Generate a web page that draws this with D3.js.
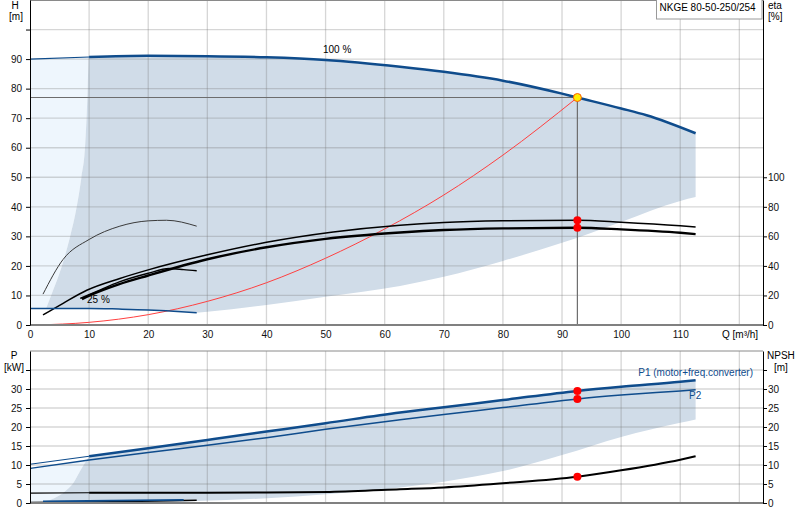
<!DOCTYPE html>
<html>
<head>
<meta charset="utf-8">
<script src="https://cdn.jsdelivr.net/npm/d3@7"></script>
<style>
  body { margin: 0; background: #fff; }
  svg { display: block; font-family: 'Liberation Sans', Arial, sans-serif; font-size: 10px; }
</style>
</head>
<body>
<svg id="chart" width="800" height="520"></svg>
<script>
// --- values ---

// head at full speed (100 %)
var qHead = [0, 10, 20, 30, 40, 50, 62.6, 70, 80, 90, 92.6, 100, 104.3, 112.6]
var hHead = [90, 90.7, 91.1, 91, 90.6, 89.7, 87.4, 85.7, 82.7, 78.3, 77, 73.3, 71, 64.9]

// head at min speed (25 %)
var qHeadMin = [0, 10, 15, 20, 23, 28.2]
var hHeadMin = [5.6, 5.6, 5.4, 5.1, 4.8, 4.15]

// left edge of the operating range
var qEdge = [9.9, 9.7, 9.3, 8.7, 7.9, 6.8, 5.4, 3.7, 2.7]
var hEdge = [90.5, 77, 60, 50, 40, 30, 20, 10.7, 5.5]

// lower edge of the operating range
var qLow = [28.2, 30, 40, 50, 62.6, 70, 80, 90, 100, 110, 112.6]
var hLow = [4.15, 4.5, 6.8, 9.6, 13.2, 16.3, 21.7, 27.8, 34.9, 42, 43.3]

// system curve
var qSys = [1, 10, 20, 30, 40, 50, 60, 70, 80, 92.6]
var hSys = [0, 0.9, 3.5, 8, 14.3, 22.6, 32.5, 44, 57.5, 77]

// efficiency curves [%]
var qEtaA = [2.2, 5.6, 9.6, 15.2, 20, 30, 40, 51.3, 62.6, 70, 80, 92.6, 100, 110, 112.6]
var etaA = [6.8, 14.7, 23.5, 31.5, 37.3, 47.5, 56, 63, 67.6, 69.4, 70.5, 70.9, 69.6, 67.2, 66.4]
var qEtaB = [8.8, 10.1, 15, 20, 30, 40, 50, 62.6, 70, 80, 92.6, 100, 110, 112.6]
var etaB = [17.5, 20, 27.5, 33.5, 44.5, 52.6, 58.3, 62.6, 64.3, 65.4, 65.8, 64.7, 62.4, 61.5]
var qEtaMin = [8.5, 12, 15, 20, 23.5, 26, 28.2]
var etaMin = [18, 24, 29, 35, 38.2, 37.5, 36.7]
var qEtaHyd = [2.2, 5.6, 10, 15.2, 20, 23.1, 28.2]
var etaHyd = [20.9, 44.4, 57.9, 66.9, 70.5, 70.9, 66.9]

// power [kW]
var qPow = [0, 10, 20, 30, 40, 50, 62.6, 70, 80, 92.6, 100, 110, 112.6]
var p1 = [10.2, 12.3, 14.4, 16.6, 18.8, 21, 23.8, 25.2, 27.1, 29.5, 30.6, 31.9, 32.3]
var p2 = [9.1, 11.3, 13.3, 15.2, 17.2, 19.4, 21.9, 23.3, 25.1, 27.4, 28.4, 29.5, 29.8]
var qPowEdge = [10, 9.6, 8.5, 7.3, 6.2, 3.4, 2.25, 1.7]
var pPowEdge = [12.3, 11.3, 8.5, 5.2, 3.4, 0.8, 0.35, 0]
var qPowLow = [20, 28.2, 39.4, 50.7, 62.6, 70, 80, 90, 100, 110, 112.6]
var pPowLow = [0, 0.5, 1.2, 2.4, 4.1, 5.6, 8.4, 12.6, 17.4, 21.1, 22]
var qPowMin = [2.2, 14, 26]
var pPowMin = [0.4, 0.6, 0.8]
var qNpshMin = [0, 14, 28.2]
var pNpshMin = [0.1, 0.3, 0.75]

// NPSH [m]
var qNpsh = [0, 10, 20, 30, 40, 50.7, 62.6, 70, 80, 92.6, 100, 110, 112.6]
var npsh = [2.6, 2.7, 2.7, 2.7, 2.75, 2.9, 3.6, 4.1, 5.2, 6.9, 8.6, 11.4, 12.3]

// duty point
var dutyQ = 92.6
var dutyH = 77
var dutyEta = [70.9, 65.8]
var dutyP = [29.5, 27.4]
var dutyNpsh = 6.9

var qTicks = d3.range(0, 111, 10)
var qGrid = d3.range(10, 121, 10)
var hTicks = d3.range(0, 101, 10)
var etaTicks = d3.range(0, 101, 20)
var pTicks = d3.range(0, 36, 5)

var BLUE = '#0f4c8c'
var DARK = '#d0dce8'
var LIGHT = '#eef6fd'

var svg = d3.select('#chart')

var x = d3.scaleLinear().domain([0, 124]).range([30, 763])
var yH = d3.scaleLinear().domain([0, 110]).range([325, 0])
var yEta = d3.scaleLinear().domain([0, 220]).range([325, 0])
var yP = d3.scaleLinear().domain([0, 40]).range([503, 351])

function pts (qs, vs) {
  return qs.map(function (q, i) { return [q, vs[i]] })
}

function lineOf (ys) {
  return d3.line()
    .x(function (d) { return x(d[0]) })
    .y(function (d) { return ys(d[1]) })
    .curve(d3.curveMonotoneX)
}

// joins several curve pieces into one closed outline
function outline (ys, parts) {
  var ln = lineOf(ys)
  return parts.map(function (p, i) {
    var s = ln(p)
    return i ? s.replace(/^M/, 'L') : s
  }).join('') + 'Z'
}

function upTo (arr, q) { return arr.filter(function (d) { return d[0] <= q }) }
function from (arr, q) { return arr.filter(function (d) { return d[0] >= q }) }

var head = pts(qHead, hHead)
var headMin = pts(qHeadMin, hHeadMin)
var edge = pts(qEdge, hEdge)
var low = pts(qLow, hLow)
var pw1 = pts(qPow, p1)
var pw2 = pts(qPow, p2)
var pEdge = pts(qPowEdge, pPowEdge)
var pLow = pts(qPowLow, pPowLow)
var np = pts(qNpsh, npsh)

function curve (g, ys, data, color, width) {
  g.append('path')
    .attr('d', lineOf(ys)(data))
    .attr('fill', 'none')
    .attr('stroke', color)
    .attr('stroke-width', width)
}

// ---------- head / efficiency chart ----------
var gTop = svg.append('g')

gTop.append('path')
  .attr('d', outline(yH, [upTo(head, 10), edge, [[2.7, 5.5], [0, 5.6]]]))
  .attr('fill', LIGHT)

gTop.append('path')
  .attr('d', outline(yH, [
    [[9.9, 90.6]].concat(from(head, 10)),
    low.slice().reverse(),
    headMin.filter(function (d) { return d[0] >= 10 }).reverse().concat([[2.7, 5.5]]),
    edge.slice().reverse()
  ]))
  .attr('fill', DARK)

var gridTop = gTop.append('g').attr('stroke', 'rgba(120,120,120,0.3)').attr('stroke-width', 1.3)
hTicks.slice(1).forEach(function (v) {
  gridTop.append('line').attr('x1', 30).attr('x2', 763).attr('y1', yH(v)).attr('y2', yH(v))
})
qGrid.forEach(function (v) {
  gridTop.append('line').attr('x1', x(v)).attr('x2', x(v)).attr('y1', 0).attr('y2', 325)
})

// crosshair to duty point
gTop.append('line')
  .attr('x1', 30).attr('x2', x(dutyQ)).attr('y1', yH(dutyH)).attr('y2', yH(dutyH))
  .attr('stroke', '#6d6d6d').attr('stroke-width', 1.2)
gTop.append('line')
  .attr('x1', x(dutyQ)).attr('x2', x(dutyQ)).attr('y1', yH(dutyH)).attr('y2', 325)
  .attr('stroke', '#6d6d6d').attr('stroke-width', 1.2)

curve(gTop, yH, pts(qSys, hSys), '#ff4040', 1)
curve(gTop, yEta, pts(qEtaHyd, etaHyd), '#3a3a3a', 1)
curve(gTop, yEta, pts(qEtaMin, etaMin), '#000', 1.4)
curve(gTop, yEta, pts(qEtaA, etaA), '#000', 1.5)
curve(gTop, yEta, pts(qEtaB, etaB), '#000', 2.4)
curve(gTop, yH, headMin, BLUE, 1.5)
curve(gTop, yH, upTo(head, 10), BLUE, 1.2)
curve(gTop, yH, from(head, 10), BLUE, 2.5)

dutyEta.forEach(function (v) {
  gTop.append('circle').attr('cx', x(dutyQ)).attr('cy', yEta(v)).attr('r', 4).attr('fill', '#ff0000')
})
gTop.append('circle')
  .attr('cx', x(dutyQ)).attr('cy', yH(dutyH)).attr('r', 4)
  .attr('fill', '#ffee00').attr('stroke', '#ff5a00').attr('stroke-width', 1)

gTop.append('text').attr('x', 323).attr('y', 53).text('100 %')
gTop.append('text').attr('x', 87).attr('y', 303).text('25 %')

// frame
gTop.append('line').attr('x1', 30).attr('x2', 763).attr('y1', 0.5).attr('y2', 0.5)
  .attr('stroke', '#8a8a8a')
gTop.append('line').attr('x1', 30).attr('x2', 763).attr('y1', 325).attr('y2', 325)
  .attr('stroke', '#808080').attr('stroke-width', 2)

gTop.append('g').attr('transform', 'translate(30,0)')
  .call(d3.axisLeft(yH).tickValues(hTicks).tickSize(4).tickSizeOuter(0).tickPadding(4)
    .tickFormat(function (d) { return d === 100 ? '' : d }))
gTop.append('g').attr('transform', 'translate(763,0)')
  .call(d3.axisRight(yEta).tickValues(etaTicks).tickSize(4).tickSizeOuter(0).tickPadding(1))
var axQ = gTop.append('g').attr('transform', 'translate(0,325)')
  .call(d3.axisBottom(x).tickValues(qTicks).tickSize(0).tickPadding(6))
axQ.select('.domain').remove()

gTop.append('text').attr('x', 722).attr('y', 338).text('Q [m³/h]')
gTop.append('text').attr('x', 15).attr('y', 8.5).attr('text-anchor', 'middle').text('H')
gTop.append('text').attr('x', 16).attr('y', 19.5).attr('text-anchor', 'middle').text('[m]')
gTop.append('text').attr('x', 768).attr('y', 8.5).text('eta')
gTop.append('text').attr('x', 768).attr('y', 19.5).text('[%]')

gTop.append('rect').attr('x', 656.5).attr('y', -0.5).attr('width', 105.5).attr('height', 19.5)
  .attr('fill', '#fff').attr('stroke', '#9a9a9a')
gTop.append('text').attr('x', 659.5).attr('y', 11).text('NKGE 80-50-250/254')

// ---------- power / NPSH chart ----------
var gBot = svg.append('g')

gBot.append('path')
  .attr('d', outline(yP, [upTo(pw2, 10), pEdge.slice(1), [[0, 0]]]))
  .attr('fill', LIGHT)

gBot.append('path')
  .attr('d', outline(yP, [
    from(pw1, 10),
    pLow.slice().reverse(),
    pEdge.slice().reverse()
  ]))
  .attr('fill', DARK)

var gridBot = gBot.append('g').attr('stroke', 'rgba(120,120,120,0.3)').attr('stroke-width', 1.3)
pTicks.slice(1).forEach(function (v) {
  gridBot.append('line').attr('x1', 30).attr('x2', 763).attr('y1', yP(v)).attr('y2', yP(v))
})
qGrid.forEach(function (v) {
  gridBot.append('line').attr('x1', x(v)).attr('x2', x(v)).attr('y1', 351).attr('y2', 503)
})

curve(gBot, yP, pts(qNpshMin, pNpshMin), '#000', 1.5)
curve(gBot, yP, pts(qPowMin, pPowMin), BLUE, 1.8)
curve(gBot, yP, upTo(np, 10), '#000', 1.2)
curve(gBot, yP, from(np, 10), '#000', 2)
curve(gBot, yP, pw2, BLUE, 1.5)
curve(gBot, yP, upTo(pw1, 10), BLUE, 1.2)
curve(gBot, yP, from(pw1, 10), BLUE, 2.5)

dutyP.concat([dutyNpsh]).forEach(function (v) {
  gBot.append('circle').attr('cx', x(dutyQ)).attr('cy', yP(v)).attr('r', 4).attr('fill', '#ff0000')
})

gBot.append('line').attr('x1', 30).attr('x2', 763).attr('y1', 351).attr('y2', 351)
  .attr('stroke', '#8a8a8a')
gBot.append('line').attr('x1', 30).attr('x2', 763).attr('y1', 503).attr('y2', 503)
  .attr('stroke', '#808080').attr('stroke-width', 2)

gBot.append('g').attr('transform', 'translate(30,0)')
  .call(d3.axisLeft(yP).tickValues(pTicks).tickSize(4).tickSizeOuter(0).tickPadding(4)
    .tickFormat(function (d) { return d === 35 ? '' : d }))
gBot.append('g').attr('transform', 'translate(763,0)')
  .call(d3.axisRight(yP).tickValues(pTicks).tickSize(4).tickSizeOuter(0).tickPadding(1)
    .tickFormat(function (d) { return d === 35 ? '' : d }))

gBot.append('text').attr('x', 14).attr('y', 358.5).attr('text-anchor', 'middle').text('P')
gBot.append('text').attr('x', 14).attr('y', 370.5).attr('text-anchor', 'middle').text('[kW]')
gBot.append('text').attr('x', 767).attr('y', 359).text('NPSH')
gBot.append('text').attr('x', 774).attr('y', 370.5).text('[m]')
gBot.append('text').attr('x', 753).attr('y', 375.5).attr('text-anchor', 'end')
  .attr('fill', BLUE).text('P1 (motor+freq.converter)')
gBot.append('text').attr('x', 689).attr('y', 399.3).attr('fill', BLUE).text('P2')

// axis text style
svg.selectAll('.tick text').attr('font-size', 10).attr('font-family', "'Liberation Sans', Arial, sans-serif").attr('fill', '#111')
svg.selectAll('.domain').attr('stroke', '#000')
</script>
</body>
</html>
